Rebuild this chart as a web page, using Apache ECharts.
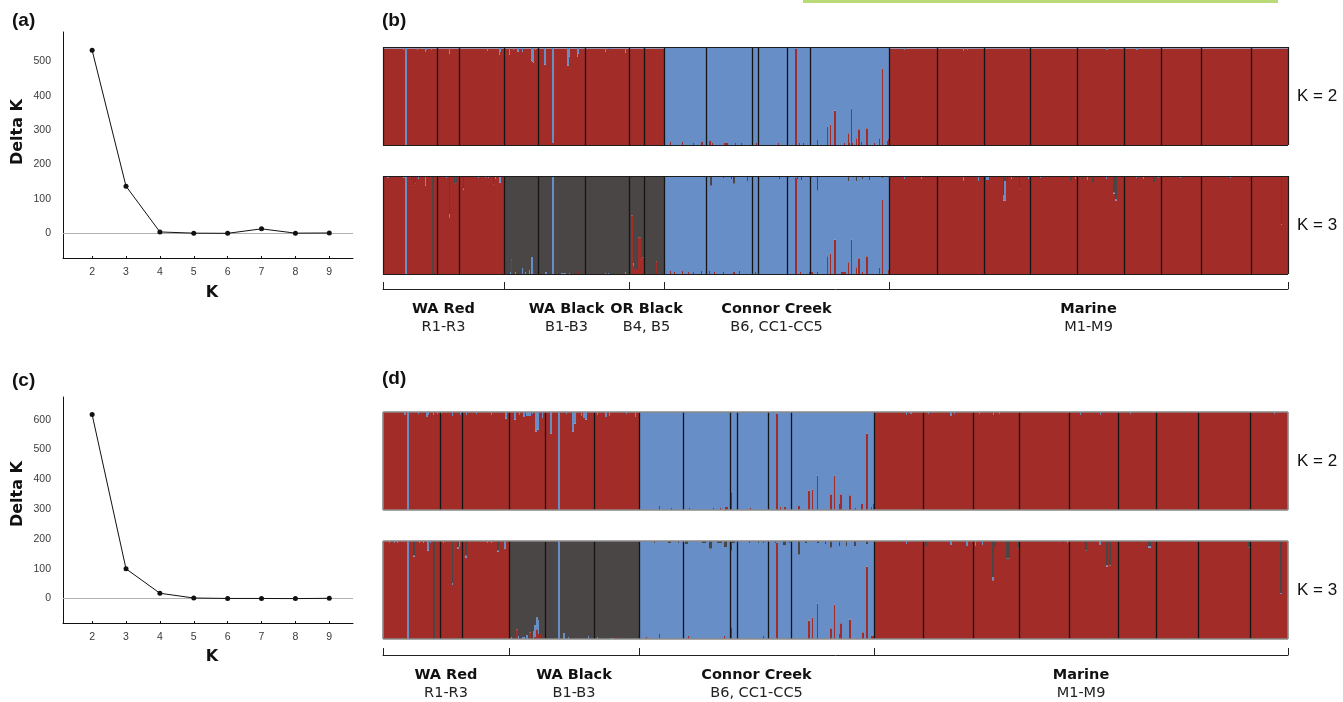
<!DOCTYPE html>
<html><head><meta charset="utf-8">
<script src="https://cdn.jsdelivr.net/npm/echarts@6/dist/echarts.min.js"></script>
<style>html,body{margin:0;padding:0;background:#fff}#c{width:1343px;height:702px}</style>
</head><body><div id="c"></div>
<script>
// ---------- Delta K panels ----------
const kValues = [2, 3, 4, 5, 6, 7, 8, 9];
const deltaKTop = [532, 137, 4, 0.5, 0, 13, 0.5, 1];
const deltaKBottom = [617, 100, 18, 2, 0.5, 0.5, 0, 1];
const yTicksTop = [0, 100, 200, 300, 400, 500];
const yTicksBottom = [0, 100, 200, 300, 400, 500, 600];

// ---------- STRUCTURE panels ----------
const popsTop = ['R1','R2','R3','B1','B2','B3','B4','B5','B6','CC1','CC2','CC3','CC4','CC5','M1','M2','M3','M4','M5','M6','M7','M8','M9'];
const sizesTop = [54,22,45,34,47,44,15,20,42,46,6,29,23,79,48,47,46,47,47,37,40,50,37];
const popsBottom = ['R1','R2','R3','B1','B2','B3','B6','CC1','CC2','CC3','CC4','CC5','M1','M2','M3','M4','M5','M6','M7','M8','M9'];
const sizesBottom = [57,22,47,36,49,45,44,47,7,31,23,83,49,50,46,50,49,38,42,52,38];

const groupNamesTop = ['WA Red','WA Black','OR Black','Connor Creek','Marine'];
const groupCodesTop = ['R1-R3','B1-B3','B4, B5','B6, CC1-CC5','M1-M9'];
const groupPopCountTop = [3,3,2,6,9];
const groupNamesBottom = ['WA Red','WA Black','Connor Creek','Marine'];
const groupCodesBottom = ['R1-R3','B1-B3','B6, CC1-CC5','M1-M9'];
const groupPopCountBottom = [3,3,6,9];

// default membership [red, blue, dark] per population
const defTopK2 = [[0.985,0.015,0],[0.985,0.015,0],[0.985,0.015,0],[0.985,0.015,0],[0.985,0.015,0],[0.985,0.015,0],[0.985,0.015,0],[0.985,0.015,0],
  [0,1,0],[0,1,0],[0,1,0],[0,1,0],[0,1,0],[0,1,0],
  [0.985,0.015,0],[0.985,0.015,0],[0.985,0.015,0],[0.985,0.015,0],[0.985,0.015,0],[0.985,0.015,0],[0.985,0.015,0],[0.985,0.015,0],[0.985,0.015,0]];
const defTopK3 = [[1,0,0],[1,0,0],[1,0,0],[0,0,1],[0,0,1],[0,0,1],[0,0,1],[0,0,1],
  [0,1,0],[0,1,0],[0,1,0],[0,1,0],[0,1,0],[0,1,0],
  [1,0,0],[1,0,0],[1,0,0],[1,0,0],[1,0,0],[1,0,0],[1,0,0],[1,0,0],[1,0,0]];
const defBotK2 = [[1,0,0],[1,0,0],[1,0,0],[1,0,0],[1,0,0],[1,0,0],
  [0,1,0],[0,1,0],[0,1,0],[0,1,0],[0,1,0],[0,1,0],
  [1,0,0],[1,0,0],[1,0,0],[1,0,0],[1,0,0],[1,0,0],[1,0,0],[1,0,0],[1,0,0]];
const defBotK3 = [[1,0,0],[1,0,0],[1,0,0],[0,0,1],[0,0,1],[0,0,1],
  [0,1,0],[0,1,0],[0,1,0],[0,1,0],[0,1,0],[0,1,0],
  [1,0,0],[1,0,0],[1,0,0],[1,0,0],[1,0,0],[1,0,0],[1,0,0],[1,0,0],[1,0,0]];

// admixed individuals: [fromIndex, toIndex, red, blue, dark]
const admixTopK2 = [
 [20,20,0.97,0.03,0],[22,23,0,1,0],[34,34,0.97,0.03,0],[42,42,0.95,0.05,0],[43,43,0.97,0.03,0],[48,48,0.97,0.03,0],
 [66,66,0.93,0.07,0],[104,104,0.96,0.04,0],[116,116,0.92,0.08,0],[117,117,0.95,0.05,0],
 [126,126,0.92,0.08,0],[130,130,0.97,0.03,0],[134,135,0.955,0.045,0],[139,139,0.955,0.045,0],[148,148,0.86,0.14,0],[149,149,0.85,0.15,0],[150,150,0.84,0.16,0],[152,152,0.97,0.03,0],
 [161,162,0.82,0.18,0],[169,170,0.02,0.98,0],[184,185,0.81,0.19,0],[186,186,0.9,0.1,0],[194,194,0.9,0.1,0],[195,195,0.93,0.07,0],
 [222,222,0.955,0.045,0],[225,227,0.98,0.02,0],[242,242,0.945,0.055,0],
 [287,287,0.03,0.97,0],[299,299,0.03,0.97,0],[310,310,0.02,0.98,0],[318,319,0.03,0.97,0],[326,327,0.04,0.96,0],[329,329,0.02,0.98,0],[341,344,0.02,0.98,0],[352,352,0.02,0.98,0],[358,358,0.02,0.98,0],[369,369,0.13,0.87,0],[373,373,0.02,0.98,0],[395,395,0.02,0.98,0],[412,413,0.98,0.02,0],[416,416,0.02,0.98,0],[420,420,0.02,0.98,0],[434,434,0.05,0.95,0],[444,444,0.19,0.81,0],[447,447,0.21,0.79,0],[451,452,0.35,0.65,0],[461,461,0.02,0.98,0],[465,465,0.12,0.88,0],[466,466,0.02,0.98,0],[468,468,0.37,0.63,0],[469,469,0.02,0.98,0],[473,473,0.07,0.93,0],[475,476,0.16,0.84,0],[478,478,0.03,0.97,0],[483,484,0.17,0.83,0],[491,491,0.02,0.98,0],[496,496,0.07,0.93,0],[499,499,0.78,0.22,0],[504,504,0.04,0.96,0],[505,505,0.06,0.94,0],
 [521,521,0.97,0.03,0],[580,580,0.96,0.04,0],[584,584,0.97,0.03,0],[723,724,0.97,0.03,0],[753,754,0.97,0.03,0]
];
const admixTopK3 = [
 [4,5,0.98,0.02,0],[20,21,0.98,0.02,0],[22,23,0,1,0],[28,28,0.95,0,0.05],[30,30,0.9,0,0.1],[32,32,0.92,0,0.08],[35,35,0.97,0.03,0],[42,42,0.9,0.1,0],[49,50,0,0,1],[63,63,0.98,0.02,0],[66,66,0.58,0.03,0.39],[71,71,0.92,0,0.08],[73,73,0.94,0,0.06],[80,80,0.86,0.01,0.13],[95,95,0.98,0.02,0],[102,102,0.98,0.02,0],[105,105,0.98,0.02,0],[110,110,0.91,0,0.09],[112,112,0.97,0.03,0],[116,117,0.93,0.07,0],
 [127,127,0,0.02,0.98],[128,128,0.15,0,0.85],[132,132,0,0.02,0.98],[139,139,0,0.06,0.94],[142,142,0,0.02,0.98],[146,146,0,0.04,0.96],[148,149,0,0.17,0.83],[150,150,0.04,0,0.96],
 [162,163,0,0.02,0.98],[169,170,0,1,0],[174,174,0.02,0,0.98],[178,182,0,0.01,0.99],[186,186,0,0.01,0.99],[195,195,0.03,0,0.97],
 [222,222,0,0.01,0.99],[225,225,0,0.01,0.99],[242,242,0,0.02,0.98],
 [248,249,0.6,0,0.4],[250,250,0.09,0.02,0.89],[251,254,0.05,0,0.95],[255,257,0.37,0,0.63],[258,258,0.15,0,0.85],[259,260,0.17,0,0.83],
 [264,264,0.02,0,0.98],[273,273,0.13,0,0.87],[276,276,0.02,0,0.98],
 [287,287,0.03,0.97,0],[291,291,0.02,0.98,0],[299,299,0.03,0.97,0],[305,305,0.02,0.98,0],[310,310,0.02,0.98,0],[318,318,0.03,0.97,0],[326,326,0.03,0.97,0],[327,328,0,0.9,0.1],[331,331,0.02,0.98,0],[340,340,0.02,0.96,0.02],[348,348,0,0.97,0.03],[350,351,0.02,0.9,0.08],[356,356,0.03,0.97,0],[364,364,0,0.95,0.05],[369,369,0.13,0.81,0.06],[372,372,0.02,0.98,0],[396,396,0,0.97,0.03],[412,413,0.98,0.02,0],[414,414,0,0.97,0.03],[417,417,0.02,0.98,0],[418,418,0,0.96,0.04],[426,429,0.02,0.98,0],[434,434,0.02,0.83,0.15],[444,444,0.18,0.82,0],[447,447,0.21,0.79,0],[451,452,0.35,0.65,0],[458,462,0.02,0.98,0],[465,465,0.12,0.83,0.05],[468,468,0.35,0.65,0],[473,473,0.07,0.88,0.05],[475,476,0.16,0.84,0],[479,479,0.02,0.95,0.03],[483,484,0.18,0.82,0],[486,486,0,0.96,0.04],[496,496,0.06,0.94,0],[499,499,0.755,0.225,0.02],[505,505,0.04,0.96,0],
 [521,521,0.97,0.03,0],[538,538,0.97,0.03,0],[580,580,0.95,0.05,0],[595,595,0.95,0.05,0],[603,605,0.96,0.04,0],[620,620,0.75,0.05,0.2],[621,622,0.75,0.2,0.05],[624,624,0.95,0,0.05],[628,628,0.97,0.03,0],[633,633,0.98,0,0.02],[636,636,0.87,0,0.13],[645,645,0.97,0.03,0],[657,657,0.98,0.02,0],[687,688,0.95,0,0.05],[692,692,0.97,0.03,0],[699,699,0.97,0,0.03],[704,704,0.96,0.04,0],[709,710,0.94,0,0.06],[723,723,0.97,0.03,0],[730,731,0.82,0.01,0.17],[732,733,0.75,0.01,0.24],[753,753,0.98,0.02,0],[760,760,0.97,0.03,0],[770,771,0.94,0,0.06],[775,775,0.98,0.02,0],[797,797,0.98,0.02,0],[847,847,0.98,0.02,0],[866,866,0.93,0,0.07],[898,898,0.5,0.01,0.49]
];
const admixBotK2 = [
 [21,22,0.97,0.03,0],[24,25,0,1,0],[35,35,0.98,0.02,0],[43,44,0.95,0.05,0],[45,45,0.97,0.03,0],[50,50,0.97,0.03,0],[54,54,0.98,0.02,0],
 [58,58,0.98,0.02,0],[69,69,0.96,0.04,0],[77,77,0.97,0.03,0],
 [83,83,0.97,0.03,0],[93,93,0.98,0.02,0],[108,108,0.97,0.03,0],[122,123,0.93,0.07,0],
 [131,132,0.92,0.08,0],[136,136,0.97,0.03,0],[140,141,0.95,0.05,0],[143,147,0.96,0.04,0],[149,149,0.98,0.02,0],[152,153,0.8,0.2,0],[154,155,0.82,0.18,0],[159,159,0.94,0.06,0],
 [167,168,0.78,0.22,0],[175,176,0,1,0],[183,183,0.98,0.02,0],[189,190,0.8,0.2,0],[191,192,0.88,0.12,0],[198,198,0.96,0.04,0],[200,201,0.94,0.06,0],[202,203,0.92,0.08,0],
 [214,214,0.97,0.03,0],[222,223,0.95,0.05,0],[226,226,0.96,0.04,0],[243,243,0.98,0.02,0],[252,252,0.95,0.05,0],
 [276,276,0.04,0.96,0],[288,288,0.02,0.98,0],[306,306,0.02,0.98,0],[330,330,0.02,0.98,0],[337,337,0.02,0.98,0],[342,344,0.03,0.97,0],[348,348,0.18,0.82,0],[367,367,0.02,0.98,0],[393,394,0.98,0.02,0],[397,397,0.03,0.97,0],[401,402,0.03,0.97,0],[415,416,0.04,0.96,0],[425,426,0.2,0.8,0],[429,429,0.21,0.79,0],[434,434,0.35,0.65,0],[447,448,0.16,0.84,0],[451,451,0.35,0.65,0],[456,456,0.07,0.93,0],[457,458,0.16,0.84,0],[466,467,0.15,0.85,0],[472,472,0.02,0.98,0],[478,479,0.06,0.94,0],[483,484,0.78,0.22,0],[488,488,0.03,0.97,0],[490,490,0.06,0.94,0],
 [523,523,0.97,0.03,0],[527,528,0.98,0.02,0],[545,545,0.98,0.02,0],[567,568,0.96,0.04,0],[571,571,0.98,0.02,0],[596,596,0.98,0.02,0],[610,610,0.97,0.03,0],[616,616,0.98,0.02,0],[697,697,0.97,0.03,0],[717,717,0.97,0.03,0],[747,747,0.98,0.02,0],[891,891,0.98,0.02,0]
];
const admixBotK3 = [
 [6,6,0.98,0.02,0],[11,11,0.98,0.02,0],[14,14,0.98,0.02,0],[24,25,0,1,0],[30,31,0.84,0.01,0.15],[36,36,0.98,0.02,0],[40,40,0.98,0.02,0],[44,45,0.9,0.1,0],[47,47,0.98,0.02,0],[50,51,0,0,1],[60,60,0.98,0.02,0],[69,69,0.55,0.02,0.43],[74,75,0.92,0.02,0.06],[76,76,0.94,0.06,0],[82,83,0.83,0.02,0.15],[104,104,0.98,0.02,0],[108,108,0.98,0.02,0],[114,115,0.89,0.01,0.1],[121,122,0.92,0.08,0],
 [128,128,0,0.02,0.98],[133,134,0.1,0,0.9],[135,135,0,0.03,0.97],[139,141,0,0.02,0.98],[143,144,0,0.04,0.96],[146,147,0.07,0,0.93],[150,150,0,0.08,0.92],[151,152,0.02,0.12,0.86],[153,154,0.1,0.12,0.78],[155,155,0.05,0.14,0.81],[157,157,0.05,0,0.95],
 [175,176,0,1,0],[180,181,0,0.06,0.94],[185,185,0,0.02,0.98],
 [205,205,0,0.03,0.97],[214,214,0,0.02,0.98],[222,222,0.03,0,0.97],[227,230,0,0.01,0.99],[233,233,0.02,0,0.98],[251,251,0,0.01,0.99],
 [263,263,0.02,0.98,0],[271,271,0,0.98,0.02],[276,276,0.05,0.95,0],[285,287,0,0.98,0.02],[295,295,0,0.98,0.02],[302,304,0,0.97,0.03],[305,305,0.03,0.97,0],[319,322,0,0.98,0.02],[326,328,0,0.92,0.08],[334,338,0,0.98,0.02],[341,341,0.03,0.91,0.06],[342,343,0,0.94,0.06],[347,348,0.12,0.78,0.1],[349,351,0,0.98,0.02],[366,366,0,0.98,0.02],[375,375,0,0.98,0.02],[380,380,0.03,0.95,0.02],[392,392,0,0.98,0.02],[393,394,0.98,0.02,0],[400,402,0,0.96,0.04],[406,406,0,0.98,0.02],[415,416,0,0.86,0.14],[422,423,0,0.98,0.02],[425,426,0.19,0.81,0],[429,429,0.22,0.78,0],[434,434,0.36,0.62,0.02],[435,435,0,0.98,0.02],[442,442,0,0.97,0.03],[447,448,0.11,0.82,0.07],[451,451,0.35,0.65,0],[456,456,0.05,0.9,0.05],[457,458,0.16,0.84,0],[463,463,0,0.95,0.05],[466,467,0.2,0.8,0],[471,472,0,0.95,0.05],[479,480,0.07,0.93,0],[483,484,0.74,0.23,0.03],[488,490,0.03,0.97,0],
 [523,523,0.97,0.03,0],[542,543,0.95,0,0.05],[567,568,0.96,0.04,0],[583,584,0.95,0.05,0],[592,592,0.95,0.05,0],[599,599,0.96,0.04,0],[609,610,0.6,0.03,0.37],[611,612,0.95,0,0.05],[623,626,0.82,0,0.18],[635,635,0.92,0,0.08],[680,680,0.97,0,0.03],[684,684,0.98,0.02,0],[702,703,0.9,0,0.1],[716,717,0.96,0.04,0],[723,724,0.74,0.01,0.25],[726,727,0.75,0,0.25],[754,754,0.96,0,0.04],[765,767,0.93,0.02,0.05],[865,866,0.93,0,0.07],[897,898,0.46,0.01,0.53]
];

// ---------- build ----------
const COLORS = ['#A22C28', '#678EC7', '#4A4645']; // red, blue, dark
function build(sizes, defs, admix) {
  const rows = [];
  sizes.forEach((s, p) => { for (let i = 0; i < s; i++) rows.push([rows.length, defs[p][0], defs[p][1], defs[p][2]]); });
  admix.forEach(o => { for (let i = o[0]; i <= o[1]; i++) rows[i] = [i, o[2], o[3], o[4]]; });
  return rows;
}
function cumul(arr) { const out = [0]; arr.forEach(v => out.push(out[out.length - 1] + v)); return out; }

const popBoundsTop = cumul(sizesTop), popBoundsBot = cumul(sizesBottom);
const NTOP = popBoundsTop[popBoundsTop.length - 1], NBOT = popBoundsBot[popBoundsBot.length - 1];
const grpBoundsTop = cumul(groupPopCountTop).map(i => popBoundsTop[i]);
const grpBoundsBot = cumul(groupPopCountBottom).map(i => popBoundsBot[i]);
const grpCentersTop = groupNamesTop.map((_, i) => (grpBoundsTop[i] + grpBoundsTop[i + 1]) / 2);
const grpCentersBot = groupNamesBottom.map((_, i) => (grpBoundsBot[i] + grpBoundsBot[i + 1]) / 2);

const panels = [
  { rows: build(sizesTop, defTopK2, admixTopK2), n: NTOP, bounds: popBoundsTop, top: 47, frame: '#1c1c1c', fw: 1.2 },
  { rows: build(sizesTop, defTopK3, admixTopK3), n: NTOP, bounds: popBoundsTop, top: 176, frame: '#1c1c1c', fw: 1.2 },
  { rows: build(sizesBottom, defBotK2, admixBotK2), n: NBOT, bounds: popBoundsBot, top: 412, frame: '#8a8a8a', fw: 1.6 },
  { rows: build(sizesBottom, defBotK3, admixBotK3), n: NBOT, bounds: popBoundsBot, top: 541, frame: '#8a8a8a', fw: 1.6 }
];

const grid = [
  { left: 63, top: 32, width: 290, height: 226 },
  { left: 63, top: 397, width: 290, height: 226 }
];
const xAxis = [], yAxis = [], series = [];
const tickFont = { fontFamily: 'Liberation Sans', fontSize: 10.5, color: '#3a3a3a' };

[[deltaKTop, yTicksTop, -71.7, 585], [deltaKBottom, yTicksBottom, -81.8, 676]].forEach((cfg, gi) => {
  xAxis.push({ type: 'value', gridIndex: gi, min: 1.14, max: 9.7, splitLine: { show: false },
    axisLine: { show: true, onZero: false, lineStyle: { color: '#111', width: 1 } },
    axisTick: { show: true, inside: true, length: 2, customValues: kValues, lineStyle: { color: '#111' } },
    axisLabel: Object.assign({ customValues: kValues, margin: 9 }, tickFont) });
  yAxis.push({ type: 'value', gridIndex: gi, min: cfg[2], max: cfg[3], splitLine: { show: false },
    axisLine: { show: true, lineStyle: { color: '#111', width: 1 } }, axisTick: { show: false },
    axisLabel: Object.assign({ customValues: cfg[1], margin: 12 }, tickFont) });
  series.push({ type: 'line', xAxisIndex: gi, yAxisIndex: gi, data: kValues.map((k, i) => [k, cfg[0][i]]),
    symbol: 'circle', symbolSize: 5, itemStyle: { color: '#111' }, lineStyle: { color: '#111', width: 1 }, z: 5,
    markLine: { silent: true, symbol: ['none', 'none'], label: { show: false }, z: 1,
      lineStyle: { color: '#b0b0b0', width: 1, type: 'solid' }, data: [{ yAxis: 0 }] } });
});

panels.forEach((p) => {
  const gi = grid.length;
  grid.push({ left: 383, top: p.top, width: 905, height: 98 });
  const xi = xAxis.length;
  xAxis.push({ type: 'value', gridIndex: gi, min: 0, max: p.n, show: false });
  const yi = yAxis.length;
  yAxis.push({ type: 'value', gridIndex: gi, min: 0, max: 1, show: false });
  series.push({ type: 'custom', xAxisIndex: xi, yAxisIndex: yi, data: p.rows, silent: true, progressive: 0,
    encode: { x: 0, y: [1, 2, 3] },
    renderItem: (params, api) => {
      const i = api.value(0);
      const x0 = Math.round(api.coord([i, 0])[0]);
      const x1 = Math.round(api.coord([i + 1, 0])[0]);
      const children = [];
      let acc = 0;
      for (let c = 0; c < 3; c++) {
        const v = api.value(c + 1);
        if (v > 0) {
          const yTop = api.coord([i, acc + v])[1];
          const yBot = api.coord([i, acc])[1];
          children.push({ type: 'rect', shape: { x: x0, y: yTop, width: x1 - x0, height: yBot - yTop }, style: { fill: COLORS[c] } });
        }
        acc += v;
      }
      return { type: 'group', children };
    } });
  const inner = p.bounds.slice(1, -1);
  series.push({ type: 'line', xAxisIndex: xi, yAxisIndex: yi, data: [], z: 6,
    markLine: { silent: true, symbol: ['none', 'none'], label: { show: false }, animation: false,
      lineStyle: { color: '#151515', width: 1.3, type: 'solid' },
      data: inner.map(v => ({ xAxis: v })).concat([
        { xAxis: 0, lineStyle: { color: p.frame, width: p.fw, type: 'solid' } },
        { xAxis: p.n, lineStyle: { color: p.frame, width: p.fw, type: 'solid' } },
        { yAxis: 0, lineStyle: { color: p.frame, width: p.fw, type: 'solid' } },
        { yAxis: 1, lineStyle: { color: p.frame, width: p.fw, type: 'solid' } }
      ]) } });
});

// group brackets
[[grpBoundsTop, grpCentersTop, groupNamesTop, groupCodesTop, 288, NTOP],
 [grpBoundsBot, grpCentersBot, groupNamesBottom, groupCodesBottom, 654, NBOT]].forEach(cfg => {
  const gi = grid.length;
  grid.push({ left: 383, top: cfg[4], width: 905, height: 1 });
  xAxis.push({ type: 'value', gridIndex: gi, min: 0, max: cfg[5], position: 'bottom', splitLine: { show: false },
    axisLine: { show: true, onZero: false, lineStyle: { color: '#222', width: 1 } },
    axisTick: { show: true, inside: true, length: 7, customValues: cfg[0], lineStyle: { color: '#222', width: 1 } },
    axisLabel: { customValues: cfg[1], margin: 11, hideOverlap: false,
      formatter: v => { const i = cfg[1].indexOf(v); return i < 0 ? '' : '{a|' + cfg[2][i] + '}\n{b|' + cfg[3][i] + '}'; },
      rich: { a: { fontFamily: 'DejaVu Sans', fontWeight: 'bold', fontSize: 14.5, lineHeight: 18, color: '#111' },
              b: { fontFamily: 'DejaVu Sans', fontSize: 14.5, lineHeight: 18, color: '#222' } } } });
  yAxis.push({ type: 'value', gridIndex: gi, min: 0, max: 1, show: false });
});

function txt(text, x, y, font, opts) {
  return { type: 'text', x: x, y: y, silent: true,
    style: Object.assign({ text: text, font: font, fill: '#111', textAlign: 'left', textVerticalAlign: 'middle', align: 'left', verticalAlign: 'middle' }, opts || {}) };
}
const graphic = [
  { type: 'rect', shape: { x: 803, y: 0, width: 475, height: 3 }, style: { fill: '#B9DA77' }, silent: true },
  txt('(a)', 12, 21, 'bold 19px "Liberation Sans"'),
  txt('(b)', 382, 21, 'bold 19px "Liberation Sans"'),
  txt('(c)', 12, 381, 'bold 19px "Liberation Sans"'),
  txt('(d)', 382, 379, 'bold 19px "Liberation Sans"'),
  txt('K', 212, 293, 'bold 16px "DejaVu Sans"', { textAlign: 'center', align: 'center' }),
  txt('K', 212, 657, 'bold 16px "DejaVu Sans"', { textAlign: 'center', align: 'center' }),
  Object.assign(txt('Delta K', 18, 132, 'bold 16px "DejaVu Sans"', { textAlign: 'center', align: 'center' }), { rotation: Math.PI / 2 }),
  Object.assign(txt('Delta K', 18, 494, 'bold 16px "DejaVu Sans"', { textAlign: 'center', align: 'center' }), { rotation: Math.PI / 2 }),
  txt('K = 2', 1297, 96, '17px "Liberation Sans"'),
  txt('K = 3', 1297, 225, '17px "Liberation Sans"'),
  txt('K = 2', 1297, 461, '17px "Liberation Sans"'),
  txt('K = 3', 1297, 590, '17px "Liberation Sans"')
];

const chart = echarts.init(document.getElementById('c'), null, { renderer: 'canvas' });
chart.setOption({ backgroundColor: '#fff', animation: false, grid, xAxis, yAxis, series, graphic });
</script></body></html>
